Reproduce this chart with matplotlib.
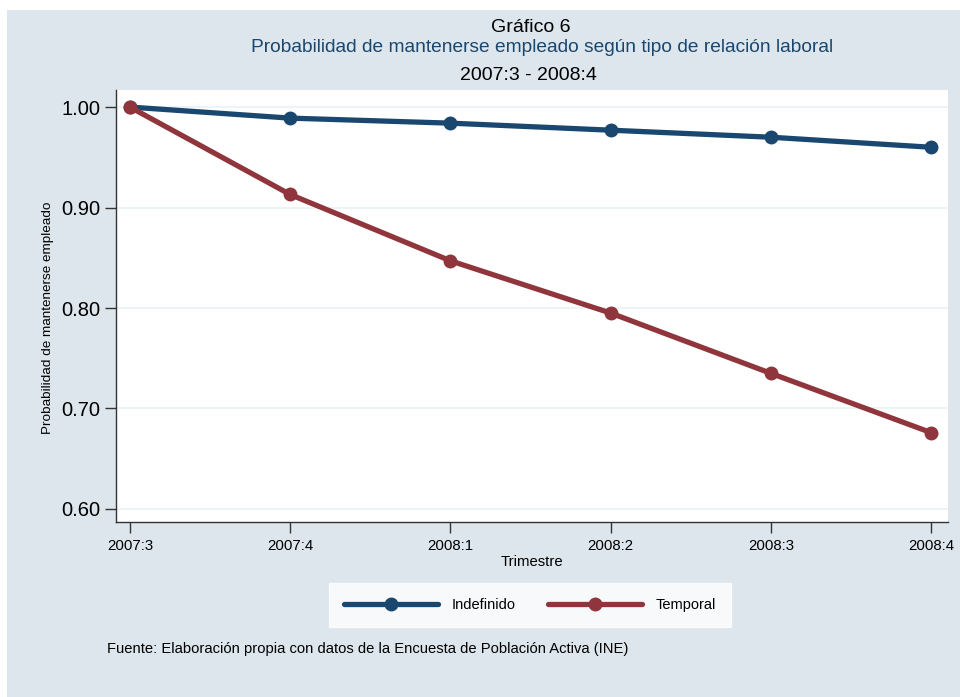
import numpy as np
import matplotlib
matplotlib.use("Agg")
from matplotlib import pyplot as plt
from matplotlib.patches import Rectangle

plt.rcParams['font.family'] = ['Liberation Sans', 'DejaVu Sans']

# data
trimestres = ['2007:3', '2007:4', '2008:1', '2008:2', '2008:3', '2008:4']
indefinido = [1.000, 0.989, 0.984, 0.977, 0.970, 0.960]
temporal = [1.000, 0.913, 0.847, 0.795, 0.735, 0.676]
yticks = [0.60, 0.70, 0.80, 0.90, 1.00]

bg = '#dce6ec'
navy = '#1a476f'
maroon = '#90353b'

fig = plt.figure(figsize=(9.6, 6.97), dpi=100)
fig.patch.set_facecolor('white')
fig.patches.append(Rectangle((7/960, 0), 1, 1 - 10/697, transform=fig.transFigure,
                             facecolor=bg, edgecolor='none', zorder=-10))

ax = fig.add_axes([116/960, 1 - 522/697, (948 - 116)/960, (522 - 90)/697])
ax.set_facecolor('white')
x = np.arange(len(trimestres))

ax.plot(x, indefinido, color=navy, lw=3.8, marker='o', ms=9, label='Indefinido',
        solid_capstyle='round', zorder=3)
ax.plot(x, temporal, color=maroon, lw=3.8, marker='o', ms=9, label='Temporal',
        solid_capstyle='round', zorder=3)

ax.set_xlim(-0.087, 5.106)
ax.set_ylim(0.587, 1.017)
ax.set_xticks(x)
ax.set_xticklabels(trimestres, fontsize=10.8)
ax.set_yticks(yticks)
ax.set_yticklabels(['%.2f' % v for v in yticks], fontsize=14.5)
ax.tick_params(axis='both', direction='out', length=8, width=1, color='#333333')
ax.tick_params(axis='x', pad=4)
ax.tick_params(axis='y', pad=3)
ax.grid(axis='y', color='#eaf2f3', lw=1.2, zorder=0)
ax.set_axisbelow(True)
for s in ['top', 'right']:
    ax.spines[s].set_visible(False)
for s in ['left', 'bottom']:
    ax.spines[s].set_color('#333333')
    ax.spines[s].set_linewidth(1)

ax.set_xlabel('Trimestre', fontsize=10.7, labelpad=2)
ax.set_ylabel('Probabilidad de mantenerse empleado', fontsize=9.7)
ax.yaxis.set_label_coords(-0.074, 0.472)

fig.text(531/960, 1 - 28/697, 'Gráfico 6', ha='center', va='center', fontsize=14)
fig.text(542/960, 1 - 48/697, 'Probabilidad de mantenerse empleado según tipo de relación laboral',
         ha='center', va='center', fontsize=13.8, color=navy)
fig.text(528/960, 1 - 76/697, '2007:3 - 2008:4', ha='center', va='center', fontsize=14)

leg = fig.legend(loc='center', bbox_to_anchor=(530/960, 1 - 605/697), ncol=2,
                 fontsize=10.5, frameon=True, fancybox=False, handlelength=6.45,
                 borderpad=1.0, columnspacing=2.2, handletextpad=0.95,
                 borderaxespad=0)
leg.get_frame().set_edgecolor('white')
leg.get_frame().set_facecolor('white')

fig.text(107/960, 1 - 649/697,
         'Fuente: Elaboración propia con datos de la Encuesta de Población Activa (INE)',
         ha='left', va='center', fontsize=10.6)

fig.savefig('out.png', dpi=100)
